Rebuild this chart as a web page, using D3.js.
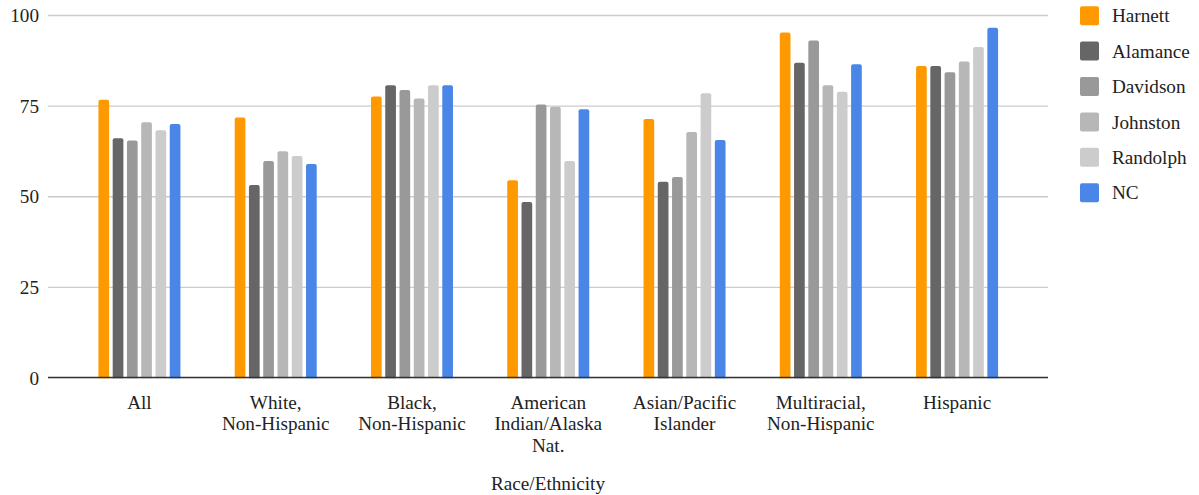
<!DOCTYPE html>
<html><head><meta charset="utf-8">
<script src="https://cdn.jsdelivr.net/npm/d3@7"></script>
<style>body{margin:0;background:#fff}svg{display:block}</style>
</head><body><svg id="c" width="1199" height="495"></svg>
<script>
const categories = [["All"],["White,","Non-Hispanic"],["Black,","Non-Hispanic"],["American","Indian/Alaska","Nat."],["Asian/Pacific","Islander"],["Multiracial,","Non-Hispanic"],["Hispanic"]];
const seriesNames = ["Harnett","Alamance","Davidson","Johnston","Randolph","NC"];
const colors = ["#ff9900","#666666","#999999","#b7b7b7","#cccccc","#4a86e8"];
const harnett  = [76.6,71.7,77.5,54.4,71.3,95.2,85.9];
const alamance = [66.0,53.1,80.6,48.4,54.0,86.8,85.9];
const davidson = [65.4,59.7,79.3,75.3,55.3,93.0,84.2];
const johnston = [70.4,62.4,77.0,74.7,67.7,80.6,87.2];
const randolph = [68.2,61.1,80.6,59.7,78.4,78.8,91.2];
const nc       = [69.9,58.9,80.6,74.0,65.5,86.4,96.5];
const yTicks = [0,25,50,75,100];
const series = [harnett,alamance,davidson,johnston,randolph,nc];

const FONT = "Liberation Serif";
const FS = 19.2;
const svg = d3.select("#c");
const plotL = 48, plotR = 1048, yTop = 15, yBot = 377.5;
const y = d3.scaleLinear().domain([0,100]).range([yBot,yTop]);
const keys = categories.map(c=>c.join(" "));
const x = d3.scaleBand().domain(keys).range([71.3,1025.2]).paddingInner(0).paddingOuter(0);
const xi = d3.scaleBand().domain(seriesNames).range([-41,41]).paddingInner(0.25).paddingOuter(0);

// gridlines
const yAxis = d3.axisLeft(y).tickValues(yTicks).tickSize(-(plotR-plotL)).tickPadding(9);
const ga = svg.append("g").attr("transform",`translate(${plotL},0)`).call(yAxis)
  .attr("font-family",FONT).attr("font-size",FS);
ga.select(".domain").remove();
ga.selectAll(".tick line").attr("stroke","#cccccc").attr("stroke-width",1.3);
ga.selectAll(".tick text").attr("fill","#222").attr("dy","0.35em");

// bars
const gb = svg.append("g");
series.forEach((vals,si)=>{
  gb.selectAll(null).data(vals).enter().append("rect")
    .attr("x",(d,i)=>x(keys[i])+x.bandwidth()/2+xi(seriesNames[si]))
    .attr("width",xi.bandwidth())
    .attr("y",d=>y(d))
    .attr("height",d=>yBot-y(d)+3)
    .attr("rx",2).attr("ry",2)
    .attr("fill",colors[si]);
});
svg.append("rect").attr("x",plotL).attr("y",yBot+0.8).attr("width",plotR-plotL).attr("height",5).attr("fill","#fff");
// baseline
svg.append("line").attr("x1",plotL).attr("x2",plotR).attr("y1",yBot).attr("y2",yBot)
  .attr("stroke","#333").attr("stroke-width",1.5);

// x labels
const gx = svg.append("g").attr("font-family",FONT).attr("font-size",FS).attr("fill","#222");
categories.forEach((lines,i)=>{
  const cx = x(keys[i])+x.bandwidth()/2;
  const t = gx.append("text").attr("text-anchor","middle").attr("x",cx).attr("y",402);
  lines.forEach((l,j)=>t.append("tspan").attr("x",cx).attr("dy",j===0?"0.35em":"21.7px").text(l));
});
svg.append("text").attr("x",(plotL+plotR)/2).attr("y",483).attr("text-anchor","middle")
  .attr("dy","0.35em").attr("font-family",FONT).attr("font-size",FS).attr("fill","#222").text("Race/Ethnicity");

// legend
const lg = svg.append("g").attr("font-family",FONT).attr("font-size",FS).attr("fill","#222");
seriesNames.forEach((n,i)=>{
  const cy = 15.7 + i*35.4;
  lg.append("rect").attr("x",1080).attr("y",cy-9.5).attr("width",19).attr("height",19).attr("rx",2).attr("fill",colors[i]);
  lg.append("text").attr("x",1112).attr("y",cy).attr("dy","0.35em").text(n);
});
</script></body></html>
